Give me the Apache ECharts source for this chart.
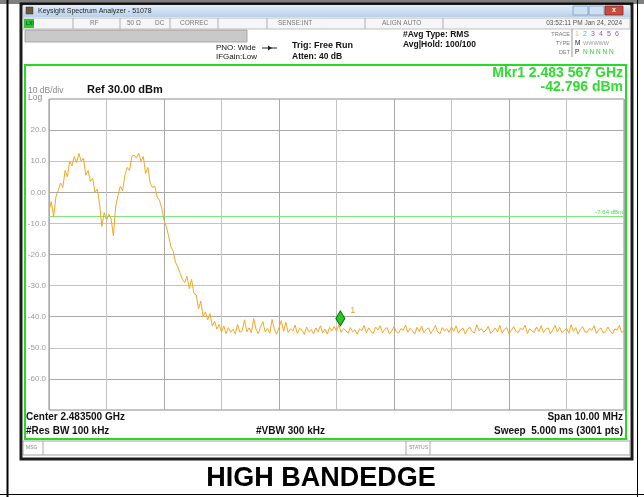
<!DOCTYPE html>
<html>
<head>
<meta charset="utf-8">
<style>
  html, body { margin: 0; padding: 0; background: #fff; }
  #main { width: 644px; height: 497px; }
</style>
<script src="https://cdn.jsdelivr.net/npm/echarts@6/dist/echarts.min.js"></script>
</head>
<body>
<div id="main"></div>
<script>
// sweep: offset from center (MHz), one point every 0.04 MHz over the 10 MHz span
const centerGHz = 2.4835;
const sweepStartMHz = -5;
const sweepStepMHz = 0.04;

// trace levels (dBm), one per sweep point
const traceLevels = [
  -6, -3, -8, -1.5, 0.5, 3, 1.5, 7, 5, 10,
  8.5, 11.5, 9.5, 12.5, 10, 11, 5.5, 7, 3.5, 4.5,
  0, 1, -4, -11, -6.5, -9, -7, -8.5, -14, -4.5,
  -1, 2, 0.5, 5.5, 8, 7, 11.5, 12, 11, 12.5,
  10, 11.5, 6, 8, 3, 1.5, 2, -1.5, -2.5, -5,
  -9, -11, -14, -17.5, -19, -22.5, -24, -26, -28, -29,
  -27, -31, -28, -32.5, -33, -37.5, -35, -40, -38.5, -41,
  -39, -43, -41.5, -44, -42.5, -45, -43, -45.5, -43.5, -45,
  -44, -45.5, -42.5, -45,
  -44.5, -41.0, -44.8, -43.6, -45.2, -40.6, -44.0, -45.5, -43.2, -41.6,
  -44.9, -43.8, -45.3, -40.9, -44.2, -45.6, -43.5, -41.3, -44.7, -41.8,
  -45.1, -43.9, -44.6, -42.7, -45.4, -43.7, -44.3, -45.7, -43.3, -44.8,
  -44.1, -45.5, -43.6, -44.9, -42.9, -45.2, -44.0, -45.6, -43.4, -44.6,
  -43.1, -44.7, -42.6, -45.0, -43.8, -44.4, -45.3, -43.5, -44.9, -44.2,
  -45.6, -43.9, -44.5, -42.8, -45.1, -43.6, -44.8, -45.4, -43.3, -44.3,
  -42.9, -45.2, -44.0, -43.5, -45.5, -44.6, -43.2, -44.9, -45.3, -43.8,
  -44.4, -42.7, -45.0, -43.7, -44.5, -45.6, -43.4, -44.8, -43.0, -45.2,
  -44.1, -43.6, -45.4, -44.3, -42.8, -44.9, -45.5, -43.5, -44.6, -43.9,
  -45.1, -43.3, -44.7, -42.9, -45.3, -44.2, -43.7, -45.6, -44.0, -43.4,
  -44.8, -45.2, -42.6, -44.5, -43.8, -45.0, -44.3, -43.1, -45.4, -44.6,
  -43.6, -44.9, -42.8, -45.3, -44.1, -43.5, -45.5, -44.4, -43.2, -44.7,
  -45.1, -43.7, -44.2, -42.7, -45.4, -43.9, -44.6, -45.0, -43.3, -44.8,
  -42.9, -45.2, -44.0, -43.6, -45.5, -44.3, -42.8, -44.9, -43.4, -45.1,
  -44.5, -43.8, -45.3, -42.6, -44.7, -43.5, -45.6, -44.1, -43.2, -44.9,
  -45.0, -43.7, -44.4, -42.9, -45.4, -44.2, -43.6, -45.2, -44.8, -43.3,
  -44.6, -45.5, -43.9, -44.3, -42.8, -45.1, -44.5
];

// marker 1 and display line
const markerGHz = 2.483567;
const markerLevel = -42.796;
const displayLine = -7.64;

// amplitude scale
const refLevel = 30;
const bottomLevel = -70;
const dbPerDiv = 10;

let chartDom = document.getElementById('main');
let myChart = echarts.init(chartDom);

let traceData = traceLevels.map((v, i) => [sweepStartMHz + i * sweepStepMHz, v]);
let markerOffset = (markerGHz - centerGHz) * 1000;

function txt(x, y, text, font, fill, align) {
  return {
    type: 'text', x: x, y: y, z: 100,
    style: {
      text: text, font: font, fill: fill || '#000',
      align: align || 'left', verticalAlign: 'middle',
      textAlign: align || 'left', textVerticalAlign: 'middle'
    }
  };
}
function box(x, y, w, h, fill, stroke, lw) {
  return {
    type: 'rect', z: 90,
    shape: { x: x, y: y, width: w, height: h },
    style: { fill: fill || 'none', stroke: stroke || 'none', lineWidth: lw || 1 }
  };
}
function vline(x, y1, y2, color, lw) {
  return {
    type: 'line', z: 95,
    shape: { x1: x, y1: y1, x2: x, y2: y2 },
    style: { stroke: color, lineWidth: lw || 1 }
  };
}

const F = "'Liberation Sans', Arial, sans-serif";

let graphics = [
  // page borders
  { type: 'line', z: 95, shape: { x1: 0, y1: 1, x2: 644, y2: 1 }, style: { stroke: '#000', lineWidth: 1 } },
  { type: 'line', z: 95, shape: { x1: 0, y1: 3, x2: 644, y2: 3 }, style: { stroke: '#000', lineWidth: 1 } },
  vline(7.5, 0, 497, '#000', 2),
  vline(637.5, 0, 497, '#000', 1),
  { type: 'line', z: 95, shape: { x1: 0, y1: 494.5, x2: 644, y2: 494.5 }, style: { stroke: '#000', lineWidth: 1 } },

  // window frame
  box(21, 4, 611, 455, 'none', '#1c1c1c', 3),
  // title bar
  {
    type: 'rect', z: 90,
    shape: { x: 23, y: 5, width: 607, height: 12 },
    style: {
      fill: new echarts.graphic.LinearGradient(0, 0, 0, 1, [
        { offset: 0, color: '#e3eef9' }, { offset: 1, color: '#b9d0ec' }
      ])
    }
  },
  box(26, 7, 7, 7, '#6a5a3a', '#333', 0.5),
  txt(38, 11, 'Keysight Spectrum Analyzer - 51078', '7px ' + F, '#222'),
  box(573, 6, 15, 9, '#cfe0f3', '#7f9cc0', 0.8),
  box(589, 6, 15, 9, '#cfe0f3', '#7f9cc0', 0.8),
  box(605, 6, 18, 9, '#c94a3e', '#8a2a22', 0.8),
  txt(614, 10.5, 'x', 'bold 7px ' + F, '#fff', 'center'),

  // status row
  box(23, 18, 607, 11, '#f6f6f6', '#b0b0b0', 0.8),
  box(24, 19, 10, 9, '#2ec82e', 'none'),
  txt(26, 23.5, 'LXI', 'bold 5px ' + F, '#063'),
  vline(73, 18, 29, '#b0b0b0'), vline(120, 18, 29, '#b0b0b0'),
  vline(170, 18, 29, '#b0b0b0'), vline(218, 18, 29, '#b0b0b0'),
  vline(267, 18, 29, '#b0b0b0'), vline(365, 18, 29, '#b0b0b0'),
  vline(443, 18, 29, '#b0b0b0'),
  txt(90, 23.5, 'RF', '6.5px ' + F, '#777'),
  txt(127, 23.5, '50 Ω', '6.5px ' + F, '#777'),
  txt(155, 23.5, 'DC', '6.5px ' + F, '#777'),
  txt(180, 23.5, 'CORREC', '6.5px ' + F, '#777'),
  txt(278, 23.5, 'SENSE:INT', '6.5px ' + F, '#777'),
  txt(382, 23.5, 'ALIGN AUTO', '6.5px ' + F, '#777'),
  txt(622, 23.5, '03:52:11 PM Jan 24, 2024', '6.5px ' + F, '#555', 'right'),

  // gray bar
  box(25, 30, 222, 12, '#c9c9c9', '#9a9a9a', 0.8),

  // settings
  txt(216, 48, 'PNO: Wide', '8px ' + F, '#111'),
  txt(216, 57, 'IFGain:Low', '8px ' + F, '#111'),
  { type: 'line', z: 95, shape: { x1: 262, y1: 48, x2: 277, y2: 48 }, style: { stroke: '#222', lineWidth: 1 } },
  { type: 'polygon', z: 95, shape: { points: [[268, 45.5], [272, 48], [268, 50.5]] }, style: { fill: '#222' } },
  txt(292, 46, 'Trig: Free Run', 'bold 9px ' + F, '#111'),
  txt(292, 57, 'Atten: 40 dB', 'bold 8.5px ' + F, '#111'),
  txt(403, 35, '#Avg Type: RMS', 'bold 8.5px ' + F, '#111'),
  txt(403, 45, 'Avg|Hold: 100/100', 'bold 8.5px ' + F, '#111'),

  // trace table
  txt(570, 34, 'TRACE', '5.5px ' + F, '#777', 'right'),
  txt(570, 43, 'TYPE', '5.5px ' + F, '#777', 'right'),
  txt(570, 52, 'DET', '5.5px ' + F, '#777', 'right'),
  vline(572, 29, 57, '#999'),
  txt(575, 34, '1', '7px ' + F, '#e8c040'),
  txt(583, 34, '2', '7px ' + F, '#2fc0e0'),
  txt(591, 34, '3', '7px ' + F, '#b040c0'),
  txt(599, 34, '4', '7px ' + F, '#c040b0'),
  txt(607, 34, '5', '7px ' + F, '#7050d0'),
  txt(615, 34, '6', '7px ' + F, '#c040c0'),
  txt(575, 43, 'M', '6.5px ' + F, '#222'),
  txt(583, 43, 'WWWWW', '5.5px ' + F, '#999'),
  txt(575, 52, 'P', '6.5px ' + F, '#222'),
  txt(583, 52, 'N N N N N', '6.5px ' + F, '#3c3'),

  // green measurement box
  box(25, 65, 601, 374, 'none', '#22dd22', 2),
  txt(28, 91, '10 dB/div', '8.5px ' + F, '#888'),
  txt(28, 98, 'Log', '8.5px ' + F, '#888'),
  txt(87, 90, 'Ref 30.00 dBm', 'bold 11px ' + F, '#111'),
  txt(623, 73, 'Mkr1 2.483 567 GHz', 'bold 14px ' + F, '#2fdc2f', 'right'),
  txt(623, 87, '-42.796 dBm', 'bold 14px ' + F, '#2fdc2f', 'right'),

  // bottom annotations
  txt(26, 417, 'Center 2.483500 GHz', 'bold 10px ' + F, '#111'),
  txt(26, 431, '#Res BW 100 kHz', 'bold 10px ' + F, '#111'),
  txt(256, 431, '#VBW 300 kHz', 'bold 10px ' + F, '#111'),
  txt(623, 417, 'Span 10.00 MHz', 'bold 10px ' + F, '#111', 'right'),
  txt(623, 431, 'Sweep  5.000 ms (3001 pts)', 'bold 10px ' + F, '#111', 'right'),

  // message row
  box(23, 441, 607, 14, '#fff', '#8a8a8a', 0.8),
  vline(43, 441, 455, '#aaa'),
  vline(406, 441, 455, '#aaa'),
  vline(430, 441, 455, '#aaa'),
  txt(26, 448, 'MSG', '5px ' + F, '#888'),
  txt(409, 448, 'STATUS', '5px ' + F, '#888'),

  // caption
  txt(321, 479, 'HIGH BANDEDGE', 'bold 27px ' + F, '#000', 'center')
];

let option = {
  animation: false,
  backgroundColor: '#fff',
  grid: {
    left: 49, right: 20, top: 99, bottom: 87,
    show: true, borderColor: '#8c8c8c', borderWidth: 1, backgroundColor: '#fff'
  },
  xAxis: {
    type: 'value',
    min: -5, max: 5, interval: 1,
    axisLine: { show: false },
    axisTick: { show: false },
    axisLabel: { show: false },
    splitLine: { show: true, lineStyle: { color: ['#a9a9a9', '#c4c4c4'], width: 1 } }
  },
  yAxis: {
    type: 'value',
    min: bottomLevel, max: refLevel, interval: dbPerDiv,
    axisLine: { show: false },
    axisTick: { show: false },
    axisLabel: {
      showMinLabel: false, showMaxLabel: false,
      color: '#9a9a9a', fontSize: 8, margin: 3,
      fontFamily: "'Liberation Sans', Arial, sans-serif",
      formatter: v => (v === 0 ? '0.00' : v.toFixed(1))
    },
    splitLine: { show: true, lineStyle: { color: ['#c4c4c4', '#a9a9a9'], width: 1 } }
  },
  series: [
    {
      type: 'line',
      data: traceData,
      showSymbol: false,
      lineStyle: { color: '#f6a623', width: 1 },
      z: 5,
      markLine: {
        silent: true,
        symbol: ['none', 'none'],
        lineStyle: { color: '#7de87d', width: 1, type: 'solid' },
        label: {
          show: true, position: 'insideEndTop', formatter: '-7.64 dBm',
          color: '#44dd44', fontSize: 6, distance: 1
        },
        data: [{ yAxis: displayLine }]
      },
      markPoint: {
        symbol: 'diamond',
        symbolSize: [9, 15],
        symbolOffset: [0, -7],
        itemStyle: { color: '#22cc22', borderColor: '#0d5d0d', borderWidth: 1 },
        label: {
          show: true, formatter: '1', color: '#f0a020', fontSize: 9,
          position: 'right', offset: [0, -8]
        },
        data: [{ coord: [markerOffset, markerLevel] }]
      }
    }
  ],
  graphic: graphics
};

option && myChart.setOption(option);
</script>
</body>
</html>
